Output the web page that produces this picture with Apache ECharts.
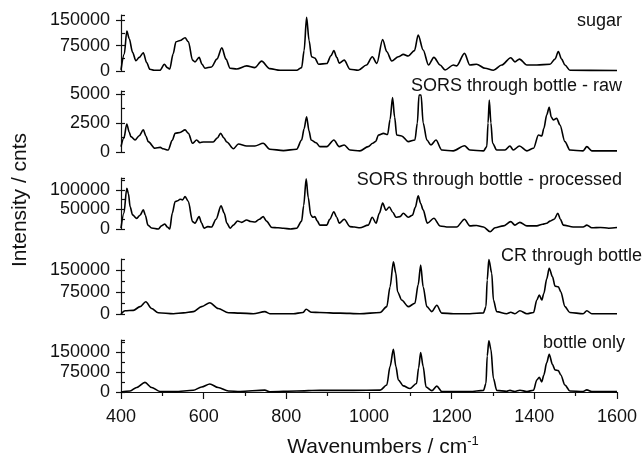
<!DOCTYPE html>
<html>
<head>
<meta charset="utf-8">
<script src="https://cdn.jsdelivr.net/npm/echarts@6/dist/echarts.min.js"></script>
<style>
  html, body { margin: 0; padding: 0; background: #fff; }
  #chart { width: 642px; height: 459px; }
</style>
</head>
<body>
<div id="chart"></div>
<script>
// wavenumber / intensity pairs
const sugarX = [400,408,414,420,428,436,444,454,462,470,480,494,505,512,518,526,533,543,555,563,573,579,589,596,603,619,632,644,654,664,680,704,724,740,760,785,825,837,843,849,855,861,869,878,898,908,915,922,928,940,954,974,994,1008,1019,1033,1043,1055,1071,1083,1095,1110,1119,1131,1144,1157,1172,1184,1204,1212,1231,1244,1260,1281,1301,1321,1343,1353,1364,1382,1406,1438,1450,1458,1466,1474,1486,1600]
const sugarY = [3000,50000,117600,95000,55000,30000,40000,53800,25000,5000,2000,2000,19700,10000,6000,50000,86000,90000,98000,86000,32000,27000,40000,20000,8000,12000,35000,68500,35000,8000,6000,15000,10000,29000,7000,2000,2000,10000,60000,158000,90000,42000,38000,20000,22000,45000,60000,40000,23000,32000,5000,2000,17600,42000,22600,93000,56700,29400,42000,49000,44000,60000,106000,61800,17600,40000,17600,3000,17600,15000,52000,17600,20000,8000,2000,17600,39000,27000,35000,17600,17600,20000,35000,57000,35000,17600,2000,1500]

const rawX = [400,407,414,420,424,434,444,454,460,466,482,495,502,514,524,531,543,555,563,573,583,591,599,623,633,641,649,656,672,684,704,724,744,760,793,825,837,843,849,855,860,872,881,898,915,928,940,954,978,998,1009,1016,1023,1035,1045,1051,1057,1062,1067,1079,1095,1111,1117,1121,1126,1131,1140,1150,1162,1176,1204,1231,1244,1277,1285,1288,1291,1295,1299,1309,1329,1341,1349,1364,1382,1398,1410,1418,1423,1430,1436,1441,1446,1454,1462,1474,1486,1518,1527,1539,1600]
const rawY = [460,1200,2410,1700,1320,1030,1400,1900,1400,890,320,400,280,170,1000,1610,1680,1900,1600,750,1030,800,860,860,1200,1610,1200,860,280,690,520,520,750,240,120,240,1030,2000,3040,1800,1030,800,460,460,1030,460,600,170,100,460,750,900,1460,1600,1500,2800,4680,3000,1460,1380,890,1030,2500,4900,4900,2500,1030,600,1030,170,100,540,170,100,460,2500,4480,2500,750,170,170,520,170,520,100,320,1460,1380,2010,3200,3850,3000,2760,2900,2330,890,170,100,460,100,100]

const procX = [400,407,414,418,422,428,438,446,454,459,465,474,490,498,506,512,518,524,531,537,543,549,555,563,573,579,589,595,601,610,619,630,642,650,656,664,672,682,692,704,714,724,735,744,752,765,780,793,810,825,837,842,848,853,859,864,869,875,881,898,905,915,922,928,940,954,965,978,998,1008,1017,1025,1033,1041,1049,1058,1065,1075,1083,1095,1105,1112,1119,1125,1131,1141,1157,1172,1192,1212,1231,1244,1260,1277,1293,1305,1325,1343,1353,1365,1382,1406,1420,1430,1438,1448,1457,1463,1470,1494,1518,1527,1539,1560,1580,1600]
const procY = [2000,40000,104000,90000,57000,36000,27000,35000,48700,35000,10000,2600,0,8000,12800,5000,0,40000,70000,72000,76000,74000,82800,70000,18700,15000,31500,15000,2000,6000,5000,25000,59000,40000,15000,2000,10000,20500,17000,23000,19000,18000,25000,31500,20000,4000,3000,2000,0,2000,20000,60000,128000,80000,36000,30000,31500,20000,10000,10000,25000,44000,30000,14600,24800,6000,5000,3000,10000,30000,14600,40000,66000,48000,56000,42000,30000,31500,40000,30000,35000,55000,84600,65000,48700,15000,27400,7700,5000,5000,24800,8000,9000,5000,-7000,3000,8000,18700,10000,17000,8000,8000,12000,14600,20000,25000,40000,25000,10000,5000,5000,10000,3000,4000,2000,4000]

const crX = [400,410,430,446,460,474,490,527,551,575,595,615,635,660,688,720,748,760,817,840,848,861,881,930,978,1027,1043,1051,1059,1065,1069,1079,1095,1111,1119,1125,1131,1140,1152,1164,1176,1204,1244,1277,1283,1286,1290,1297,1301,1309,1333,1343,1353,1365,1382,1398,1406,1412,1418,1423,1430,1436,1444,1450,1458,1464,1474,1486,1518,1527,1539,1600]
const crY = [0,11000,12500,25000,42000,19000,4400,1000,4000,8000,25000,38500,19000,4400,3000,1000,8000,1000,1000,5000,16000,6000,5000,3000,1000,5000,25000,93000,178000,139000,76000,47700,25000,36500,100000,167000,93000,25000,8000,29600,3000,1000,1000,4000,25000,116000,186000,139000,47700,8000,1000,6000,1000,11000,1000,5000,47700,65000,47700,70000,120000,156000,127000,95000,93000,76000,25000,5000,1000,11000,1000,1000]

const bottleX = [400,422,438,458,474,494,530,575,595,615,635,660,688,748,760,825,881,962,1027,1043,1051,1059,1065,1071,1083,1099,1115,1120,1125,1131,1138,1152,1164,1176,1244,1277,1283,1286,1290,1295,1301,1309,1333,1341,1353,1365,1382,1398,1406,1412,1418,1423,1430,1436,1444,1450,1458,1464,1474,1486,1518,1527,1539,1600]
const bottleY = [0,4000,17000,36000,17000,2000,1500,6500,19000,30000,17000,4000,2000,7000,1000,4000,6500,6000,7000,26000,96000,160000,96000,45000,23000,13000,32000,90000,148000,96000,19000,5000,22000,2000,2000,6000,32000,135000,192000,160000,51000,6000,2500,6000,2000,6500,2000,6500,45000,55000,38000,64000,110000,141000,103000,83000,80000,64000,26000,4000,2000,8000,2000,1500]

const xTicks = [400, 600, 800, 1000, 1200, 1400, 1600]

const font = 'Liberation Sans, Arial, sans-serif'
const ink = '#111'
const plain = v => String(v)

// layout of the five stacked panels
const panels = [
    { label: 'sugar', xs: sugarX, ys: sugarY, top: 15, height: 56, max: 165000, step: 75000, tTop: 12, tRight: 20 },
    { label: 'SORS through bottle - raw', xs: rawX, ys: rawY, top: 91, height: 61, max: 5250, step: 2500, tTop: 77, tRight: 20 },
    { label: 'SORS through bottle - processed', xs: procX, ys: procY, top: 178, height: 51, max: 130000, step: 50000, tTop: 171, tRight: 20 },
    { label: 'CR through bottle', xs: crX, ys: crY, top: 259, height: 55, max: 187500, step: 75000, tTop: 247, tRight: 0 },
    { label: 'bottle only', xs: bottleX, ys: bottleY, top: 340, height: 52, max: 195000, step: 75000, tTop: 334, tRight: 17 },
]

const grid = []
const xAxis = []
const yAxis = []
const series = []
const title = []

panels.forEach((p, i) => {
    const last = i === panels.length - 1
    grid.push({ left: 121, right: 25, top: p.top, height: p.height })
    xAxis.push({
        type: 'value', gridIndex: i, min: xTicks[0], max: xTicks[xTicks.length - 1], interval: 200,
        show: last, offset: last ? 3 : 0,
        axisLine: { show: true, lineStyle: { color: ink, width: 1.2 } },
        axisTick: { show: true, length: 7, lineStyle: { color: ink, width: 1.2 } },
        minorTick: { show: true, splitNumber: 2, length: 4, lineStyle: { color: ink, width: 1.2 } },
        axisLabel: { fontSize: 18, color: ink, fontFamily: font, margin: 13, formatter: plain },
        splitLine: { show: false }
    })
    // main axis: labels and outward major ticks
    yAxis.push({
        type: 'value', gridIndex: i, position: 'left', min: 0, max: p.max, interval: p.step,
        axisLine: { show: true, lineStyle: { color: ink, width: 1.2 } },
        axisTick: { show: true, length: 5, lineStyle: { color: ink, width: 1.2 } },
        axisLabel: { fontSize: 18, color: ink, fontFamily: font, margin: 11, showMaxLabel: false, formatter: plain },
        splitLine: { show: false }
    })
    // second axis: inward minor ticks only
    yAxis.push({
        type: 'value', gridIndex: i, position: 'left', min: 0, max: p.max, interval: p.step / 2,
        axisLine: { show: false },
        axisTick: { show: true, inside: true, length: 4, lineStyle: { color: ink, width: 1.2 } },
        axisLabel: { show: false },
        splitLine: { show: false }
    })
    series.push({
        type: 'line', xAxisIndex: i, yAxisIndex: i * 2,
        data: p.xs.map((x, k) => [x, p.ys[k]]),
        showSymbol: false, smooth: 0.3, smoothMonotone: 'x', clip: false,
        lineStyle: { color: '#000', width: 1.6 }
    })
    title.push({
        text: p.label, right: p.tRight, top: p.tTop, padding: 0,
        textStyle: { fontSize: 18, fontWeight: 'normal', color: ink, fontFamily: font }
    })
})

const chart = echarts.init(document.getElementById('chart'))
chart.setOption({
    animation: false,
    title,
    grid,
    xAxis,
    yAxis,
    series,
    graphic: [
        {
            type: 'text', x: 20, y: 200, rotation: Math.PI / 2,
            style: { text: 'Intensity / cnts', fontSize: 21, fill: ink, fontFamily: font, align: 'center', verticalAlign: 'middle' }
        },
        {
            type: 'text', x: 383, y: 447,
            style: {
                text: '{a|Wavenumbers / cm}{s|-1}', fill: ink, fontFamily: font, align: 'center', verticalAlign: 'middle',
                rich: {
                    a: { fontSize: 21, fontFamily: font, fill: ink },
                    s: { fontSize: 13, fontFamily: font, fill: ink, padding: [0, 0, 12, 0] }
                }
            }
        }
    ]
})
</script>
</body>
</html>
